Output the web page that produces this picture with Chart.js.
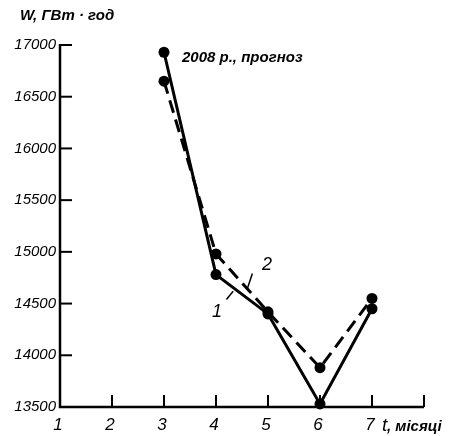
<!DOCTYPE html>
<html>
<head>
<meta charset="utf-8">
<script src="https://cdn.jsdelivr.net/npm/chart.js@4.4.0/dist/chart.umd.min.js"></script>
<style>
  html, body { margin: 0; padding: 0; background: #fff; }
  #wrap { width: 455px; height: 436px; }
</style>
</head>
<body>
<div id="wrap"><canvas id="myChart" width="455" height="436"></canvas></div>
<script>
// months with forecast points
var months = [3, 4, 5, 6, 7];
// curve 1 (solid) and curve 2 (dashed), GWh
var curve1 = [16930, 14780, 14400, 13530, 14450];
var curve2 = [16650, 14980, 14420, 13880, 14550];
// axis ticks
var yTicks = [13500, 14000, 14500, 15000, 15500, 16000, 16500, 17000];
var xTicks = [1, 2, 3, 4, 5, 6, 7, 8];
var xTickLabels = ['1', '2', '3', '4', '5', '6', '7', ''];

function toPoints(vals) {
    return months.map(function (m, i) { return { x: m, y: vals[i] }; });
}

var ink = '#000';
var labelFont = 'italic 500 15px "Liberation Sans", "DejaVu Sans", sans-serif';

// draws axes, inward ticks and all the text
var axesPlugin = {
    id: 'axesPlugin',
    afterDraw: function (chart) {
        var ctx = chart.ctx;
        var xs = chart.scales.x, ys = chart.scales.y;
        var left = xs.getPixelForValue(xTicks[0]);
        var right = xs.getPixelForValue(xTicks[xTicks.length - 1]);
        var bottom = ys.getPixelForValue(yTicks[0]);
        var top = ys.getPixelForValue(yTicks[yTicks.length - 1]);

        ctx.save();
        ctx.strokeStyle = ink;
        ctx.fillStyle = ink;
        ctx.lineWidth = 2.5;
        ctx.lineCap = 'butt';

        // axis lines
        ctx.beginPath();
        ctx.moveTo(left, top - 1);
        ctx.lineTo(left, bottom);
        ctx.lineTo(right, bottom);
        ctx.stroke();

        // y ticks + labels
        ctx.lineWidth = 2;
        ctx.font = labelFont;
        ctx.textAlign = 'right';
        ctx.textBaseline = 'middle';
        yTicks.forEach(function (v) {
            var py = ys.getPixelForValue(v);
            ctx.beginPath();
            ctx.moveTo(left, py);
            ctx.lineTo(left + 12, py);
            ctx.stroke();
            ctx.fillText(String(v), left - 4, py);
        });

        // x ticks + labels
        ctx.textAlign = 'center';
        ctx.textBaseline = 'top';
        ctx.font = 'italic 17px "Liberation Sans", "DejaVu Sans", sans-serif';
        xTicks.forEach(function (v, i) {
            var px = xs.getPixelForValue(v);
            if (i > 0) {
                ctx.beginPath();
                ctx.moveTo(px, bottom);
                ctx.lineTo(px, bottom - 12);
                ctx.stroke();
            }
            ctx.fillText(xTickLabels[i], px - 2, bottom + 10);
        });

        // axis titles
        ctx.textAlign = 'left';
        ctx.font = 'italic 19px "Liberation Sans", "DejaVu Sans", sans-serif';
        ctx.fillText('t', xs.getPixelForValue(7) + 10, bottom + 9);
        ctx.font = 'italic bold 15px "Liberation Sans", "DejaVu Sans", sans-serif';
        ctx.fillText(', місяці', xs.getPixelForValue(7) + 15, bottom + 12);

        ctx.textBaseline = 'middle';
        ctx.font = 'italic bold 15px "Liberation Sans", "DejaVu Sans", sans-serif';
        ctx.fillText('W, ГВт · год', 20, 16);

        ctx.fillText('2008 р., прогноз', xs.getPixelForValue(3) + 18, ys.getPixelForValue(16880));

        // curve numbers with leader lines
        ctx.lineWidth = 1.5;
        ctx.font = 'italic 18px "Liberation Sans", "DejaVu Sans", sans-serif';
        ctx.textAlign = 'center';
        ctx.fillText('1', xs.getPixelForValue(4.02), ys.getPixelForValue(14420));
        ctx.beginPath();
        ctx.moveTo(xs.getPixelForValue(4.2), ys.getPixelForValue(14540));
        ctx.lineTo(xs.getPixelForValue(4.33), ys.getPixelForValue(14620));
        ctx.stroke();
        ctx.fillText('2', xs.getPixelForValue(4.98), ys.getPixelForValue(14870));
        ctx.beginPath();
        ctx.moveTo(xs.getPixelForValue(4.7), ys.getPixelForValue(14790));
        ctx.lineTo(xs.getPixelForValue(4.6), ys.getPixelForValue(14640));
        ctx.stroke();

        ctx.restore();
    }
};

var ctx = document.getElementById('myChart').getContext('2d');
var chart = new Chart(ctx, {
    type: 'line',
    data: {
        datasets: [{
            label: '1',
            data: toPoints(curve1),
            borderColor: ink,
            backgroundColor: ink,
            borderWidth: 3,
            pointRadius: 5.5,
            pointBackgroundColor: ink,
            pointBorderWidth: 0,
            tension: 0,
            clip: false
        }, {
            label: '2',
            data: toPoints(curve2),
            borderColor: ink,
            backgroundColor: ink,
            borderWidth: 3,
            borderDash: [13, 7],
            pointRadius: 5.5,
            pointBackgroundColor: ink,
            pointBorderWidth: 0,
            tension: 0,
            clip: false
        }]
    },
    options: {
        responsive: false,
        animation: false,
        layout: { padding: { left: 60, right: 31, top: 45, bottom: 29 } },
        plugins: {
            legend: { display: false },
            tooltip: { enabled: false }
        },
        scales: {
            x: { type: 'linear', min: 1, max: 8, display: false },
            y: { type: 'linear', min: 13500, max: 17000, display: false }
        }
    },
    plugins: [axesPlugin]
});
</script>
</body>
</html>
